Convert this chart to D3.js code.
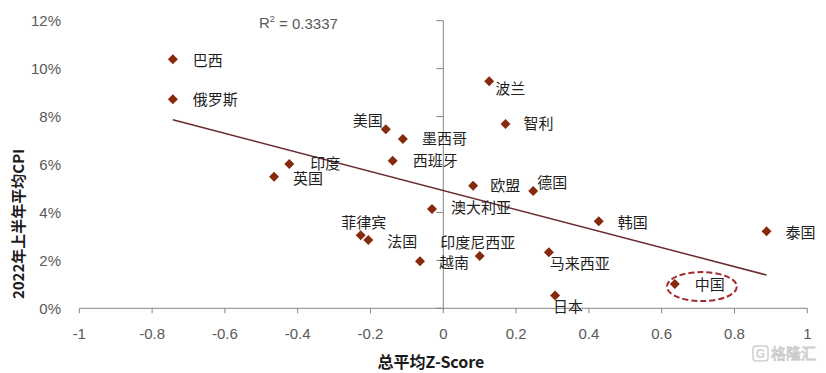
<!DOCTYPE html>
<html>
<head>
<meta charset="utf-8">
<script src="https://cdn.jsdelivr.net/npm/d3@7"></script>
<style>
  body { margin: 0; background: #fff; }
  svg { display: block; }
</style>
</head>
<body>
<svg width="826" height="373"></svg>
<script>
// dati
var paesi = ["巴西", "俄罗斯", "印度", "英国", "美国", "墨西哥", "西班牙", "智利", "波兰", "欧盟", "德国",
  "澳大利亚", "菲律宾", "法国", "越南", "印度尼西亚", "马来西亚", "日本", "韩国", "泰国", "中国"]
var zScore = [-0.743, -0.743, -0.423, -0.465, -0.158, -0.111, -0.139, 0.171, 0.126, 0.082, 0.247,
  -0.031, -0.227, -0.206, -0.064, 0.100, 0.290, 0.307, 0.427, 0.888, 0.636]
var cpi = [10.39, 8.72, 6.02, 5.49, 7.47, 7.06, 6.16, 7.69, 9.47, 5.11, 4.89,
  4.14, 3.05, 2.85, 1.96, 2.18, 2.34, 0.53, 3.63, 3.21, 1.01]
var xTicks = [-1, -0.8, -0.6, -0.4, -0.2, 0, 0.2, 0.4, 0.6, 0.8, 1]
var yTicks = [0, 2, 4, 6, 8, 10, 12]
var r2 = "0.3337"

// posizione delle etichette rispetto al punto [dx, dy, ancoraggio]
var etichette = {
  "巴西": [20, 1, "start"], "俄罗斯": [20, 0, "start"], "印度": [21, 0, "start"], "英国": [19, 2, "start"],
  "美国": [-3, -9, "end"], "墨西哥": [19, 0, "start"], "西班牙": [20, 0, "start"], "智利": [18, 0, "start"],
  "波兰": [6, 7, "start"], "欧盟": [17, 0, "start"], "德国": [4, -8, "start"], "澳大利亚": [19, -1, "start"],
  "菲律宾": [3, -12, "middle"], "法国": [19, 2, "start"], "越南": [19, 1, "start"], "印度尼西亚": [-2, -13, "middle"],
  "马来西亚": [1, 12, "start"], "日本": [-2, 11, "start"], "韩国": [19, 1, "start"], "泰国": [19, 1, "start"],
  "中国": [20, 1, "start"]
}

var svg = d3.select("svg")
var fontCN = "'Noto Sans CJK SC', 'Noto Sans', sans-serif"
var fontNum = "'Liberation Sans', Arial, sans-serif"

var x = d3.scaleLinear().domain([-1, 1]).range([79.3, 807.3])
var y = d3.scaleLinear().domain([0, 12]).range([308.3, 20.7])

var punti = paesi.map(function(p, i) { return {nome: p, x: zScore[i], y: cpi[i]} })

/*
ASSE X
*/
var ax = svg.append("g").attr("transform", "translate(0," + y(0) + ")")
ax.append("line").attr("x1", x(-1)).attr("x2", x(1))
  .attr("stroke", "#868686").attr("stroke-width", 1)
ax.selectAll("line.t").data(xTicks).enter().append("line")
  .attr("class", "t")
  .attr("x1", function(d) { return x(d) }).attr("x2", function(d) { return x(d) })
  .attr("y1", 0).attr("y2", 5)
  .attr("stroke", "#868686")
ax.selectAll("text").data(xTicks).enter().append("text")
  .attr("x", function(d) { return x(d) })
  .attr("y", 25)
  .attr("dy", "0.35em")
  .attr("text-anchor", "middle")
  .attr("font-family", fontNum).attr("font-size", 15).attr("fill", "#595959")
  .text(function(d) { return String(d) })

/*
ASSE Y
*/
var ay = svg.append("g").attr("transform", "translate(" + x(0) + ",0)")
ay.append("line").attr("y1", y(0)).attr("y2", y(12))
  .attr("stroke", "#868686")
ay.selectAll("line.t").data(yTicks).enter().append("line")
  .attr("class", "t")
  .attr("x1", -7).attr("x2", 0)
  .attr("y1", function(d) { return y(d) }).attr("y2", function(d) { return y(d) })
  .attr("stroke", "#868686")
svg.append("g").selectAll("text").data(yTicks).enter().append("text")
  .attr("x", 61)
  .attr("y", function(d) { return y(d) })
  .attr("dy", "0.35em")
  .attr("text-anchor", "end")
  .attr("font-family", fontNum).attr("font-size", 15).attr("fill", "#595959")
  .text(function(d) { return d + "%" })

/*
TITOLI
*/
svg.append("text")
  .attr("transform", "translate(24,224) rotate(-90)")
  .attr("text-anchor", "middle")
  .attr("font-family", fontCN).attr("font-size", 15).attr("font-weight", "bold").attr("fill", "#1a1a1a")
  .text("2022年上半年平均CPI")
svg.append("text")
  .attr("x", 431).attr("y", 362).attr("dy", "0.35em")
  .attr("text-anchor", "middle")
  .attr("font-family", fontCN).attr("font-size", 16).attr("font-weight", "bold").attr("fill", "#1a1a1a")
  .text("总平均Z-Score")

var rt = svg.append("text")
  .attr("x", 259).attr("y", 23).attr("dy", "0.35em")
  .attr("font-family", fontNum).attr("font-size", 15).attr("fill", "#595959")
rt.append("tspan").text("R")
rt.append("tspan").attr("font-size", 9).attr("dy", "-0.7em").text("2")
rt.append("tspan").attr("dy", "0.45em").text(" = " + r2)

/*
RETTA DI REGRESSIONE (minimi quadrati)
*/
var mx = d3.mean(zScore), my = d3.mean(cpi)
var sxy = d3.sum(zScore, function(v, i) { return (v - mx) * (cpi[i] - my) })
var sxx = d3.sum(zScore, function(v) { return (v - mx) * (v - mx) })
var b = sxy / sxx, a = my - b * mx
var xmin = d3.min(zScore), xmax = d3.max(zScore)
svg.append("line")
  .attr("x1", x(xmin)).attr("y1", y(a + b * xmin))
  .attr("x2", x(xmax)).attr("y2", y(a + b * xmax))
  .attr("stroke", "#6b2a2e").attr("stroke-width", 1.5)

/*
PUNTI
*/
var g = svg.append("g").selectAll("g").data(punti).enter().append("g")
  .attr("transform", function(d) { return "translate(" + x(d.x) + "," + y(d.y) + ")" })
g.append("path")
  .attr("d", "M0,-5L5,0L0,5L-5,0Z")
  .attr("fill", "#86290c")
g.append("text")
  .attr("x", function(d) { return etichette[d.nome][0] })
  .attr("y", function(d) { return etichette[d.nome][1] })
  .attr("dy", "0.35em")
  .attr("text-anchor", function(d) { return etichette[d.nome][2] })
  .attr("font-family", fontCN).attr("font-size", 15).attr("fill", "#1f1f1f")
  .text(function(d) { return d.nome })

// ellisse tratteggiata attorno alla Cina
var cina = punti[paesi.indexOf("中国")]
svg.append("ellipse")
  .attr("cx", x(cina.x) + 27).attr("cy", y(cina.y) + 2.5)
  .attr("rx", 35).attr("ry", 14.5)
  .attr("fill", "none").attr("stroke", "#a3292b").attr("stroke-width", 2)
  .attr("stroke-dasharray", "6,3")

/*
FILIGRANA
*/
var wm = svg.append("g").attr("transform", "translate(752,345)")
wm.append("rect").attr("x", 1).attr("y", 1).attr("width", 15).attr("height", 15).attr("rx", 3)
  .attr("fill", "none").attr("stroke", "#cfcfcf").attr("stroke-width", 1.5)
wm.append("text").attr("x", 8.5).attr("y", 13).attr("text-anchor", "middle")
  .attr("font-family", fontNum).attr("font-weight", "bold").attr("font-size", 12).attr("fill", "#cfcfcf")
  .text("G")
wm.append("text").attr("x", 19).attr("y", 14)
  .attr("font-family", fontCN).attr("font-size", 15).attr("fill", "#fff")
  .attr("stroke", "#c8c8c8").attr("stroke-width", 0.8)
  .text("格隆汇")
</script>
</body>
</html>
